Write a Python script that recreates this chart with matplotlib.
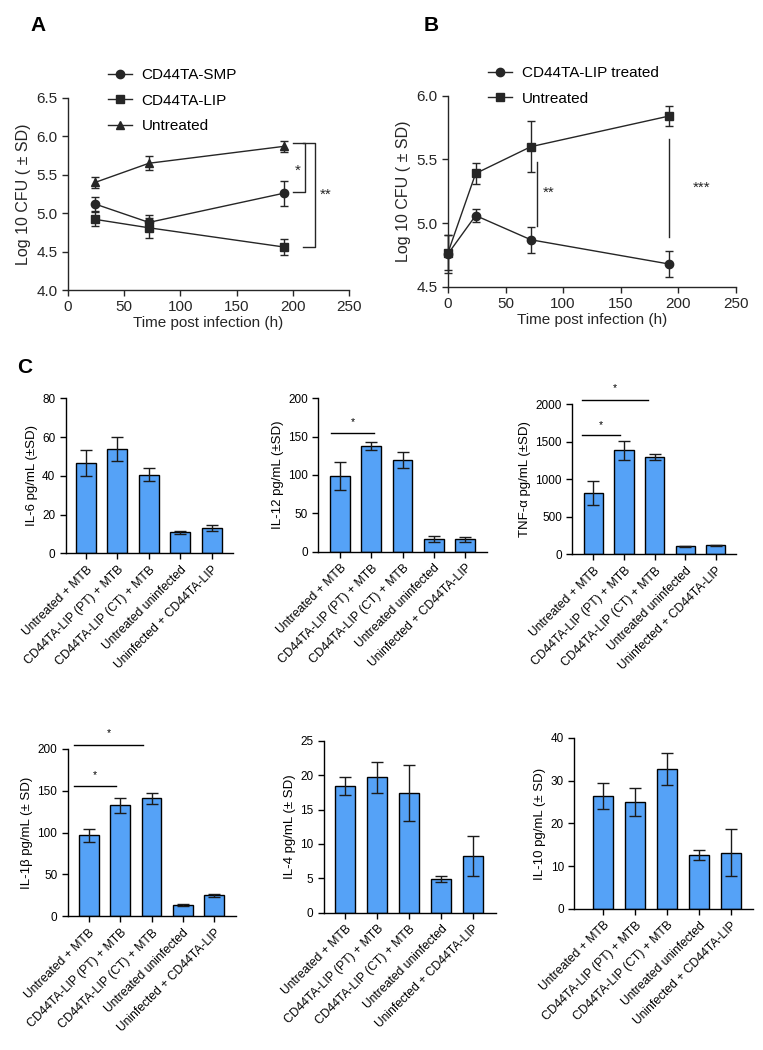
import matplotlib
matplotlib.use('Agg')
import matplotlib.pyplot as plt
from matplotlib.lines import Line2D

plt.rcParams['font.family'] = ['Liberation Sans', 'DejaVu Sans']
plt.rcParams['axes.linewidth'] = 1.0

# ---- data: panel A ----
times_a = [24, 72, 192]
smp_mean = [5.12, 4.88, 5.26]
smp_sd = [0.09, 0.09, 0.16]
lip_mean = [4.92, 4.81, 4.56]
lip_sd = [0.09, 0.13, 0.11]
untr_a_mean = [5.40, 5.65, 5.87]
untr_a_sd = [0.07, 0.09, 0.07]

# ---- data: panel B ----
times_b = [0, 24, 72, 192]
lipt_mean = [4.76, 5.06, 4.87, 4.68]
lipt_sd = [0.15, 0.05, 0.10, 0.10]
untr_b_mean = [4.77, 5.39, 5.60, 5.84]
untr_b_sd = [0.14, 0.08, 0.20, 0.08]

# ---- data: panel C ----
groups = ['Untreated + MTB', 'CD44TA-LIP (PT) + MTB', 'CD44TA-LIP (CT) + MTB',
          'Untreated uninfected', 'Uninfected + CD44TA-LIP']
il6 = [46.6, 53.9, 40.6, 10.8, 13.1]
il6_sd = [6.5, 6.3, 3.4, 0.7, 1.6]
il12 = [99, 138, 120, 16.5, 16]
il12_sd = [18.5, 5, 10.5, 4, 3.5]
tnf = [816, 1384, 1295, 106, 120]
tnf_sd = [155, 125, 35, 10, 10]
il1b = [96.6, 132.4, 140.8, 13.5, 25]
il1b_sd = [8, 8.5, 6.4, 1, 1.5]
il4 = [18.5, 19.7, 17.4, 4.9, 8.25]
il4_sd = [1.3, 2.25, 4.1, 0.4, 2.9]
il10 = [26.4, 25.1, 32.7, 12.6, 13.2]
il10_sd = [3.1, 3.3, 3.7, 1.2, 5.6]

txt = '#262626'
bar_color = '#55A2F7'

fig = plt.figure(figsize=(7.63, 10.5), dpi=100)


def style_line_ax(ax):
    for s in ['top', 'right']:
        ax.spines[s].set_visible(False)
    ax.spines['left'].set_color(txt)
    ax.spines['bottom'].set_color(txt)
    ax.tick_params(colors=txt, length=4, width=1, labelsize=11)


def legend_handle(marker):
    return Line2D([], [], color=txt, marker=marker, ms=6, lw=1)


ekw = dict(color=txt, capsize=3, elinewidth=1, capthick=1, lw=1, ms=6, clip_on=False)
leg_kw = dict(loc='upper left', frameon=False, prop={'size': 11}, handlelength=1.6,
              labelspacing=0.75, handletextpad=0.6, borderpad=0, borderaxespad=0)

# ---------- Panel A ----------
axA = fig.add_axes([0.0891, 0.7238, 0.3683, 0.1829])
axA.errorbar(times_a, smp_mean, yerr=smp_sd, marker='o', **ekw)
axA.errorbar(times_a, lip_mean, yerr=lip_sd, marker='s', **ekw)
axA.errorbar(times_a, untr_a_mean, yerr=untr_a_sd, marker='^', **ekw)
axA.set_xlim(0, 250)
axA.set_ylim(4.0, 6.5)
axA.set_xticks([0, 50, 100, 150, 200, 250])
axA.set_yticks([4.0, 4.5, 5.0, 5.5, 6.0, 6.5])
axA.set_xlabel('Time post infection (h)', fontsize=11, color=txt, labelpad=1)
axA.set_ylabel('Log 10 CFU ( ± SD)', fontsize=11.5, color=txt, labelpad=4)
style_line_ax(axA)
axA.plot([200, 211, 211, 200], [5.92, 5.92, 5.28, 5.28], color=txt, lw=1, clip_on=False)
axA.plot([209, 220, 220, 209], [5.92, 5.92, 4.56, 4.56], color=txt, lw=1, clip_on=False)
axA.text(204, 5.55, '*', fontsize=11, color=txt, ha='center', va='center')
axA.text(229, 5.24, '**', fontsize=11, color=txt, ha='center', va='center')
fig.legend([legend_handle('o'), legend_handle('s'), legend_handle('^')],
           ['CD44TA-SMP', 'CD44TA-LIP', 'Untreated'],
           bbox_to_anchor=(0.1415, 0.935), **leg_kw)
fig.text(0.04, 0.976, 'A', fontsize=15, fontweight='bold', ha='left', va='center')

# ---------- Panel B ----------
axB = fig.add_axes([0.5872, 0.7267, 0.3771, 0.1822])
axB.errorbar(times_b, lipt_mean, yerr=lipt_sd, marker='o', **ekw)
axB.errorbar(times_b, untr_b_mean, yerr=untr_b_sd, marker='s', **ekw)
axB.set_xlim(0, 250)
axB.set_ylim(4.5, 6.0)
axB.set_xticks([0, 50, 100, 150, 200, 250])
axB.set_yticks([4.5, 5.0, 5.5, 6.0])
axB.set_xlabel('Time post infection (h)', fontsize=11, color=txt, labelpad=1)
axB.set_ylabel('Log 10 CFU ( ± SD)', fontsize=11.5, color=txt, labelpad=4)
style_line_ax(axB)
axB.plot([77, 77], [5.48, 4.98], color=txt, lw=1)
axB.plot([192, 192], [5.66, 4.89], color=txt, lw=1)
axB.text(87, 5.24, '**', fontsize=11, color=txt, ha='center', va='center')
axB.text(220, 5.28, '***', fontsize=11, color=txt, ha='center', va='center')
fig.legend([legend_handle('o'), legend_handle('s')],
           ['CD44TA-LIP treated', 'Untreated'],
           bbox_to_anchor=(0.6396, 0.937), **leg_kw)
fig.text(0.555, 0.976, 'B', fontsize=15, fontweight='bold', ha='left', va='center')

# ---------- Panel C ----------
fig.text(0.022, 0.650, 'C', fontsize=15, fontweight='bold', ha='left', va='center')

bar_panels = [
    ([0.0861, 0.4730, 0.2193, 0.1476], il6, il6_sd, 'IL-6 pg/mL (±SD)', 80, 20, (-0.64, 4.67), []),
    ([0.4172, 0.4746, 0.2207, 0.1461], il12, il12_sd, 'IL-12 pg/mL (±SD)', 200, 50, (-0.69, 4.69),
     [(-0.29, 1.09, 155, 163)]),
    ([0.7501, 0.4721, 0.2145, 0.1431], tnf, tnf_sd, 'TNF-α pg/mL (±SD)', 2000, 500, (-0.69, 4.66),
     [(-0.38, 0.87, 1588, 1660), (-0.38, 1.80, 2058, 2150)]),
    ([0.0887, 0.1273, 0.2202, 0.1596], il1b, il1b_sd, 'IL-1β pg/mL (± SD)', 200, 50, (-0.67, 4.68),
     [(-0.47, 0.86, 155, 163), (-0.47, 1.74, 204, 213)]),
    ([0.4246, 0.1308, 0.2250, 0.1635], il4, il4_sd, 'IL-4 pg/mL (± SD)', 25, 5, (-0.66, 4.71), []),
    ([0.7527, 0.1343, 0.2346, 0.1629], il10, il10_sd, 'IL-10 pg/mL (± SD)', 40, 10, (-0.90, 4.70), []),
]

for rect, vals, sds, ylab, ymax, step, xl, sigs in bar_panels:
    ax = fig.add_axes(rect)
    xs = list(range(len(groups)))
    ax.bar(xs, vals, width=0.63, color=bar_color, edgecolor='black', linewidth=1, zorder=2)
    ax.errorbar(xs, vals, yerr=sds, fmt='none', ecolor='#1a1a1a', elinewidth=1,
                capsize=4, capthick=1, zorder=3)
    ax.set_xlim(*xl)
    ax.set_ylim(0, ymax)
    ax.set_yticks(range(0, ymax + 1, step))
    ax.set_xticks(xs)
    ax.set_xticklabels(groups, rotation=45, ha='right', rotation_mode='anchor', fontsize=8.7)
    ax.set_ylabel(ylab, fontsize=9.5, labelpad=3)
    for s in ['top', 'right']:
        ax.spines[s].set_visible(False)
    ax.tick_params(length=4, width=1)
    ax.tick_params(axis='y', labelsize=8.5)
    for x0, x1, yl, ys in sigs:
        ax.plot([x0, x1], [yl, yl], color='black', lw=1, clip_on=False)
        ax.text((x0 + x1) / 2, ys, '*', fontsize=7.5, ha='center', va='bottom')

fig.savefig('out.png', dpi=100)
